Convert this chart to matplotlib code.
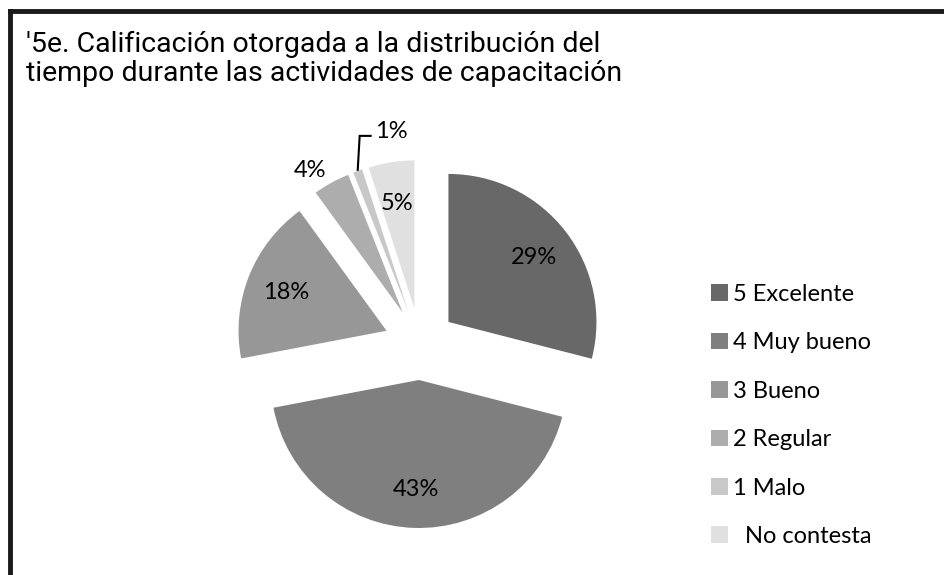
import matplotlib
matplotlib.use("Agg")
import matplotlib.pyplot as plt
from matplotlib.lines import Line2D
import numpy as np

# data
categories = ["5 Excelente", "4 Muy bueno", "3 Bueno", "2 Regular", "1 Malo", "  No contesta"]
values = [29, 43, 18, 4, 1, 5]
colors = ["#686868", "#7f7f7f", "#979797", "#adadad", "#c8c8c8", "#e0e0e0"]
title = "'5e. Calificación otorgada a la distribución del\ntiempo durante las actividades de capacitación"

W, H = 945, 575
label_font = ["Lato", "DejaVu Sans"]
title_font = ["Roboto", "DejaVu Sans"]

fig = plt.figure(figsize=(W / 100, H / 100), dpi=100)
ax = fig.add_axes([0, 0, 1, 1])

R = 148
cx, cy = 420, H - 344
wedges, texts, autotexts = ax.pie(
    values, colors=colors, startangle=90, counterclock=False,
    explode=[36] * len(values), radius=R, center=(cx, cy),
    autopct="%1.0f%%", pctdistance=0.73,
    textprops=dict(family=label_font, fontsize=17, color="black"),
)
for t in autotexts:
    t.set_va("center_baseline")

# 4% sits outside its slice
w = wedges[3]
th = np.deg2rad((w.theta1 + w.theta2) / 2 + 4)
autotexts[3].set_position((w.center[0] + 1.16 * R * np.cos(th),
                           w.center[1] + 1.16 * R * np.sin(th)))

# 1% gets an elbow leader line
w = wedges[4]
th = np.deg2rad((w.theta1 + w.theta2) / 2)
x0 = w.center[0] + R * np.cos(th)
y0 = w.center[1] + R * np.sin(th)
ax.plot([x0, x0 + 2, x0 + 14], [y0, y0 + 35, y0 + 35], color="black", lw=1.5,
        solid_capstyle="butt", solid_joinstyle="miter")
autotexts[4].set_position((x0 + 17, y0 + 41))
autotexts[4].set_ha("left")

ax.set_xlim(0, W)
ax.set_ylim(0, H)
ax.axis("off")

leg = ax.legend(wedges, categories, loc="upper left", bbox_to_anchor=(711, H - 284),
                bbox_transform=ax.transData, frameon=False, borderpad=0, borderaxespad=0,
                handlelength=0.7, handleheight=0.7, handletextpad=0.25,
                labelspacing=1.16, prop=dict(family=label_font, size=17))

fig.text(26 / W, 1 - 31 / H, title, ha="left", va="top", fontsize=20.5,
         family=title_font, linespacing=1.1)

# chart frame (top and left edges show in the reference)
fig.add_artist(Line2D([10 / W, 10 / W], [0, 1 - 11 / H], transform=fig.transFigure,
                      color="#1a1a1a", lw=3.5, solid_capstyle="projecting"))
fig.add_artist(Line2D([10 / W, 1], [1 - 11 / H, 1 - 11 / H], transform=fig.transFigure,
                      color="#1a1a1a", lw=3.5, solid_capstyle="projecting"))

fig.savefig("out.png", dpi=100, facecolor="white")
